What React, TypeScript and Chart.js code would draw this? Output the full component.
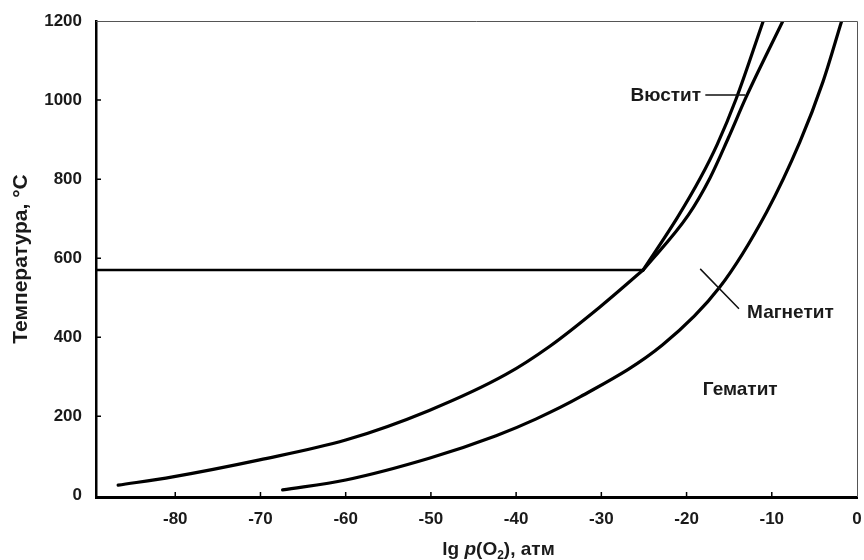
import React, { useEffect, useRef } from "react";
import { Chart, registerables } from "chart.js";

Chart.register(...registerables);

// ---- data ----
const xTickValues = [-80, -70, -60, -50, -40, -30, -20, -10, 0];
const yTickValues = [0, 200, 400, 600, 800, 1000, 1200];
const X_MIN = -89.3;
const X_MAX = 0;
const Y_MIN = -4;
const Y_MAX = 1200;

// Fe / Fe3O4 boundary (below 570 °C)
const feMagnetiteLgP = [-86.7, -80.3, -70.1, -60.0, -50.2, -41.2, -36.0, -30.2, -25.1];
const feMagnetiteT = [26, 47, 90, 140, 215, 306, 378, 476, 570];

// Fe / FeO boundary (above 570 °C)
const feWustiteLgP = [-25.1, -21.1, -18.4, -16.4, -14.2, -11.0];
const feWustiteT = [570, 702, 802, 888, 1002, 1200];

// FeO / Fe3O4 boundary
const wustiteMagnetiteLgP = [-25.1, -19.8, -17.25, -15.1, -13.0, -8.7];
const wustiteMagnetiteT = [570, 709, 803, 904, 1008, 1200];

// Fe3O4 / Fe2O3 boundary
const hematiteLgP = [-67.4, -60.0, -50.2, -42.35, -37.7, -32.5, -22.8, -16.1, -10.6, -6.7, -4.0, -1.8];
const hematiteT = [14, 39, 94, 151, 193, 249, 381, 527, 717, 894, 1046, 1200];

// eutectoid line at 570 °C
const eutectoidLgP = [X_MIN, -25.1];
const eutectoidT = [570, 570];

// labels: text, lgP, T
const labelTexts = ["Вюстит", "Магнетит", "Гематит"];
const labelLgP = [-18.3, -12.9, -13.7];
const labelT = [1012, 461, 268];
// leader lines: from (lgP1,T1) to (lgP2,T2)
const leaderLgP1 = [-17.8, -18.4];
const leaderT1 = [1013, 573];
const leaderLgP2 = [-13.1, -13.85];
const leaderT2 = [1013, 472];

const FONT = "'Liberation Sans', Arial, sans-serif";

const toPts = (xs: number[], ys: number[]) => xs.map((x, i) => ({ x, y: ys[i] }));

const decorPlugin = {
  id: "decor",
  afterDatasetsDraw(chart: any) {
    const { ctx, chartArea, scales } = chart;
    const { left, right, top, bottom } = chartArea;
    const x = scales.x;
    const y = scales.y;
    ctx.save();
    // thin top & right frame
    ctx.strokeStyle = "#555";
    ctx.lineWidth = 1;
    ctx.beginPath();
    ctx.moveTo(left, top + 0.5);
    ctx.lineTo(right + 0.5, top + 0.5);
    ctx.lineTo(right + 0.5, bottom);
    ctx.stroke();
    // inward tick marks
    ctx.strokeStyle = "#000";
    ctx.lineWidth = 1.5;
    ctx.beginPath();
    x.ticks.forEach((t: any) => {
      const px = x.getPixelForValue(t.value);
      if (px < right - 2) {
        ctx.moveTo(px, bottom);
        ctx.lineTo(px, bottom - 5);
      }
    });
    y.ticks.forEach((t: any) => {
      const py = y.getPixelForValue(t.value);
      if (py > top + 2 && py < bottom - 2) {
        ctx.moveTo(left, py);
        ctx.lineTo(left + 5, py);
      }
    });
    ctx.stroke();
    // leader lines
    ctx.lineWidth = 1.5;
    ctx.strokeStyle = "#111";
    ctx.beginPath();
    leaderLgP1.forEach((v, i) => {
      ctx.moveTo(x.getPixelForValue(v), y.getPixelForValue(leaderT1[i]));
      ctx.lineTo(x.getPixelForValue(leaderLgP2[i]), y.getPixelForValue(leaderT2[i]));
    });
    ctx.stroke();
    // labels
    ctx.fillStyle = "#1a1a1a";
    ctx.font = `bold 19px ${FONT}`;
    ctx.textBaseline = "middle";
    labelTexts.forEach((txt, i) => {
      ctx.textAlign = i === 0 ? "right" : i === 1 ? "left" : "center";
      ctx.fillText(txt, x.getPixelForValue(labelLgP[i]), y.getPixelForValue(labelT[i]));
    });
    ctx.restore();
  },
  afterDraw(chart: any) {
    const { ctx, chartArea } = chart;
    const cx = (chartArea.left + chartArea.right) / 2 + 22;
    const cy = 548;
    ctx.save();
    ctx.fillStyle = "#1a1a1a";
    ctx.textBaseline = "alphabetic";
    const parts: [string, string, number][] = [
      ["lg ", `bold 19px ${FONT}`, 0],
      ["p", `italic bold 19px ${FONT}`, 0],
      ["(O", `bold 19px ${FONT}`, 0],
      ["2", `bold 12px ${FONT}`, 4],
      ["), атм", `bold 19px ${FONT}`, 0],
    ];
    let total = 0;
    parts.forEach(([t, f]) => {
      ctx.font = f;
      total += ctx.measureText(t).width;
    });
    let px = cx - total / 2;
    const base = cy + 7;
    parts.forEach(([t, f, dy]) => {
      ctx.font = f;
      ctx.textAlign = "left";
      ctx.fillText(t, px, base + dy);
      px += ctx.measureText(t).width;
    });
    ctx.restore();
  },
};

export default function App() {
  const ref = useRef<HTMLCanvasElement>(null);

  useEffect(() => {
    document.body.style.margin = "0";
    const canvas = ref.current;
    if (!canvas) return;
    const lineDs = (data: { x: number; y: number }[], width: number, smooth: boolean) => ({
      data,
      borderColor: "#000",
      borderWidth: width,
      pointRadius: 0,
      fill: false,
      cubicInterpolationMode: smooth ? ("monotone" as const) : ("default" as const),
      tension: 0,
      clip: 0,
      borderCapStyle: "round" as const,
    });
    const chart = new Chart(canvas, {
      type: "line",
      data: {
        datasets: [
          lineDs(toPts(feMagnetiteLgP, feMagnetiteT), 3.2, true),
          lineDs(toPts(feWustiteLgP, feWustiteT), 3.2, true),
          lineDs(toPts(wustiteMagnetiteLgP, wustiteMagnetiteT), 3.2, true),
          lineDs(toPts(hematiteLgP, hematiteT), 3.2, true),
          lineDs(toPts(eutectoidLgP, eutectoidT), 2.6, false),
        ] as any,
      },
      options: {
        animation: false,
        responsive: false,
        devicePixelRatio: 1,
        parsing: false as any,
        layout: { padding: { top: 21, right: 7, left: 0, bottom: 0 } },
        plugins: { legend: { display: false }, tooltip: { enabled: false }, title: { display: false } },
        scales: {
          x: {
            type: "linear",
            min: X_MIN,
            max: X_MAX,
            grid: { display: false, drawTicks: false },
            border: { display: true, color: "#000", width: 3 },
            afterBuildTicks: (s: any) => {
              s.ticks = xTickValues.map((v) => ({ value: v }));
            },
            afterFit: (s: any) => {
              s.height = 63;
              s.paddingLeft = 0;
              s.paddingRight = 0;
            },
            ticks: {
              color: "#1a1a1a",
              font: { family: FONT, size: 17, weight: "bold" },
              padding: 12,
              maxRotation: 0,
              autoSkip: false,
              callback: (v: any) => String(v),
            },
          },
          y: {
            type: "linear",
            min: Y_MIN,
            max: Y_MAX,
            grid: { display: false, drawTicks: false },
            border: { display: true, color: "#000", width: 2.5 },
            afterBuildTicks: (s: any) => {
              s.ticks = yTickValues.map((v) => ({ value: v }));
            },
            afterFit: (s: any) => {
              s.width = 96;
              s.paddingTop = 0;
              s.paddingBottom = 0;
            },
            title: {
              display: true,
              text: "Температура, °С",
              color: "#1a1a1a",
              font: { family: FONT, size: 21, weight: "bold" },
              padding: { top: 9, bottom: 0 },
            },
            ticks: {
              color: "#1a1a1a",
              font: { family: FONT, size: 17, weight: "bold" },
              padding: 14,
              autoSkip: false,
              callback: (v: any) => String(v),
            },
          },
        },
      },
      plugins: [decorPlugin],
    });
    return () => chart.destroy();
  }, []);

  return (
    <div style={{ width: 864, height: 560, background: "#fff" }}>
      <canvas ref={ref} width={864} height={560} style={{ display: "block" }} />
    </div>
  );
}
